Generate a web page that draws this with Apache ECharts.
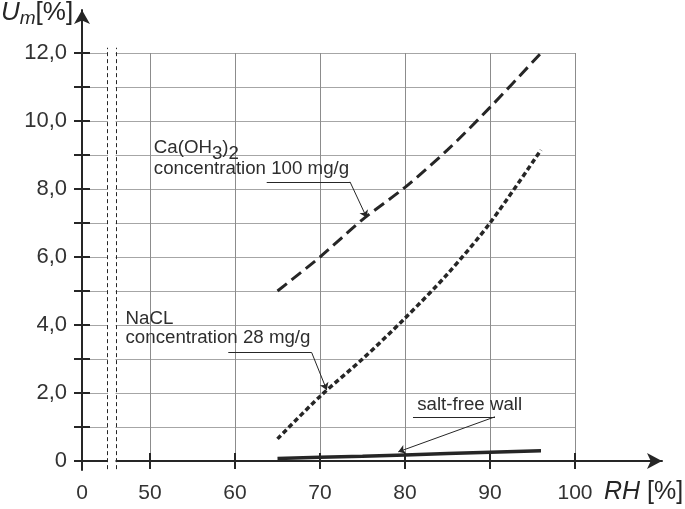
<!DOCTYPE html>
<html>
<head>
<meta charset="utf-8">
<script src="https://cdn.jsdelivr.net/npm/echarts@6/dist/echarts.min.js"></script>
<style>
html, body { margin: 0; padding: 0; background: #fff; }
#chart { width: 685px; height: 509px; }
</style>
</head>
<body>
<div id="chart"></div>
<script>
// values
var rh = [65, 70, 75, 80, 85, 90, 96];
var caOH = [5.0, 6.0, 7.1, 8.05, 9.15, 10.4, 12.0];
var nacl = [0.65, 1.9, 3.0, 4.2, 5.5, 7.0, 9.15];
var saltFree = [0.07, 0.11, 0.14, 0.18, 0.22, 0.26, 0.30];

// x axis is broken: the "0" label sits at 42 on the scale
var xTickValues = [42, 50, 60, 70, 80, 90, 100];
var xTickLabels = ['0', '50', '60', '70', '80', '90', '100'];
var xGridValues = [50, 60, 70, 80, 90, 100];
var yTickValues = [0, 2, 4, 6, 8, 10, 12];
var yTickLabels = ['0', '2,0', '4,0', '6,0', '8,0', '10,0', '12,0'];
var yMinorValues = [0, 1, 2, 3, 4, 5, 6, 7, 8, 9, 10, 11, 12];
var breakAt = [45.0, 46.0];

var font = 'Liberation Sans, Arial, sans-serif';
var ink = '#262626';

function pairs(xs, ys) {
    var out = [];
    for (var i = 0; i < xs.length; ++i) out.push([xs[i], ys[i]]);
    return out;
}

function labelOf(values, labels) {
    return function (v) {
        for (var i = 0; i < values.length; ++i) {
            if (Math.abs(values[i] - v) < 1e-6) return labels[i];
        }
        return '';
    };
}

// leader line: underline from (x0,y) to (x1,y), then arrow to tip
function leader(x0, x1, y, tip) {
    return [
        [{ coord: [x0, y], symbol: 'none' }, { coord: [x1, y], symbol: 'none' }],
        [{ coord: [x1, y], symbol: 'none' }, { coord: tip, symbol: 'arrow' }]
    ];
}

var noteRich = {
    a: { fontSize: 18.7, fontFamily: font, color: '#2e2e2e' },
    s: { fontSize: 18.7, fontFamily: font, color: '#2e2e2e', padding: [12, 0, 0, 0] }
};

function note(x, y, text) {
    return {
        coord: [x, y],
        label: { formatter: text }
    };
}

function marks(lines, texts) {
    return {
        markLine: {
            silent: true,
            animation: false,
            symbolSize: 7,
            label: { show: false },
            lineStyle: { color: ink, width: 1, type: 'solid' },
            data: lines
        },
        markPoint: {
            silent: true,
            animation: false,
            symbol: 'circle',
            symbolSize: 1,
            itemStyle: { color: 'rgba(0,0,0,0)' },
            label: { show: true, position: 'right', distance: 0, rich: noteRich },
            data: texts
        }
    };
}

var dom = document.getElementById('chart');
var myChart = echarts.init(dom);

var caSeries = {
    name: 'Ca(OH3)2', type: 'line', xAxisIndex: 0, yAxisIndex: 0,
    data: pairs(rh, caOH), smooth: 0.3, showSymbol: false,
    lineStyle: { color: ink, width: 3, type: [12, 6] }
};
Object.assign(caSeries, marks(leader(63.73, 73.53, 8.21, [75.49, 7.16]), [
    note(50.39, 9.20, '{a|Ca(OH}{s|3}{a|)}{s|2}'),
    note(50.39, 8.58, '{a|concentration 100 mg/g}')
]));

var naclSeries = {
    name: 'NaCL', type: 'line', xAxisIndex: 0, yAxisIndex: 0,
    data: pairs(rh, nacl), smooth: 0.3, showSymbol: false,
    lineStyle: { color: ink, width: 3.5, type: [5, 3] }
};
Object.assign(naclSeries, marks(leader(59.21, 69.02, 3.19, [70.79, 2.09]), [
    note(47.06, 4.17, '{a|NaCL}'),
    note(47.06, 3.61, '{a|concentration 28 mg/g}')
]));

var freeSeries = {
    name: 'salt-free wall', type: 'line', xAxisIndex: 0, yAxisIndex: 0,
    data: pairs(rh, saltFree), showSymbol: false,
    lineStyle: { color: ink, width: 3.5 }
};
Object.assign(freeSeries, marks(leader(80.94, 90.59, 1.30, [79.21, 0.27]), [
    note(81.38, 1.65, '{a|salt-free wall}')
]));

// axis break on the second grid
var breakSeries = {
    type: 'line', xAxisIndex: 1, yAxisIndex: 1, data: [],
    markArea: {
        silent: true,
        itemStyle: { color: '#fff' },
        data: [[{ coord: [breakAt[0] + 0.06, -0.12] }, { coord: [breakAt[1] - 0.06, 12.2] }]]
    },
    markLine: {
        silent: true,
        animation: false,
        symbol: ['none', 'none'],
        label: { show: false },
        lineStyle: { color: ink, width: 1, type: [4, 3] },
        data: [
            [{ coord: [breakAt[0], -0.24] }, { coord: [breakAt[0], 12.15] }],
            [{ coord: [breakAt[1], -0.24] }, { coord: [breakAt[1], 12.15] }]
        ]
    }
};

var option = {
    animation: false,
    backgroundColor: '#fff',
    grid: [
        { left: 82, right: 110, top: 53, bottom: 48 },
        { left: 82, right: 23, top: 10, bottom: 39 }
    ],
    xAxis: [
        {
            type: 'value', gridIndex: 0, min: 42, max: 100,
            axisLine: { show: false },
            axisLabel: { show: false },
            axisTick: { show: true, inside: true, length: 8, customValues: xGridValues,
                lineStyle: { color: ink, width: 2 } },
            splitLine: { show: true, lineStyle: { color: '#8c8c8c', width: 1 } }
        },
        {
            type: 'value', gridIndex: 1, min: 42, max: 110.24,
            axisLine: { show: true, onZero: true, symbol: ['none', 'arrow'], symbolSize: [12, 15],
                lineStyle: { color: ink, width: 2 } },
            axisTick: { show: true, inside: false, length: 8, customValues: xGridValues,
                lineStyle: { color: ink, width: 2 } },
            axisLabel: { show: true, customValues: xTickValues, margin: 13,
                formatter: labelOf(xTickValues, xTickLabels),
                fontSize: 21, fontFamily: font, color: '#333' },
            splitLine: { show: false }
        }
    ],
    yAxis: [
        {
            type: 'value', gridIndex: 0, min: 0, max: 12, interval: 1,
            axisLine: { show: false },
            axisLabel: { show: false },
            axisTick: { show: true, inside: true, length: 8,
                lineStyle: { color: ink, width: 2 } },
            splitLine: { show: true, lineStyle: { color: '#a6a6a6', width: 1 } }
        },
        {
            type: 'value', gridIndex: 1, min: -0.265, max: 13.26,
            axisLine: { show: true, onZero: false, symbol: ['none', 'arrow'], symbolSize: [12, 14],
                lineStyle: { color: ink, width: 2 } },
            axisTick: { show: true, inside: false, length: 8, customValues: yMinorValues,
                lineStyle: { color: ink, width: 2 } },
            axisLabel: { show: true, customValues: yTickValues, margin: 15,
                formatter: labelOf(yTickValues, yTickLabels),
                fontSize: 22, fontFamily: font, color: '#333' },
            splitLine: { show: false }
        }
    ],
    graphic: [
        {
            type: 'text', left: 1, top: 0,
            style: {
                text: '{i|U}{m|m}{r|[%]}',
                rich: {
                    i: { fontSize: 26, fontStyle: 'italic', fontFamily: font, fill: ink },
                    m: { fontSize: 19, fontStyle: 'italic', fontFamily: font, fill: ink, padding: [12, 0, 0, 0] },
                    r: { fontSize: 26, fontFamily: font, fill: ink }
                }
            }
        },
        {
            type: 'text', left: 604, top: 480,
            style: {
                text: '{i|RH}{r| [%]}',
                rich: {
                    i: { fontSize: 25, fontStyle: 'italic', fontFamily: font, fill: ink },
                    r: { fontSize: 25, fontFamily: font, fill: ink }
                }
            }
        }
    ],
    series: [caSeries, naclSeries, freeSeries, breakSeries]
};

if (option && typeof option === 'object') {
    myChart.setOption(option, true);
}
</script>
</body>
</html>
